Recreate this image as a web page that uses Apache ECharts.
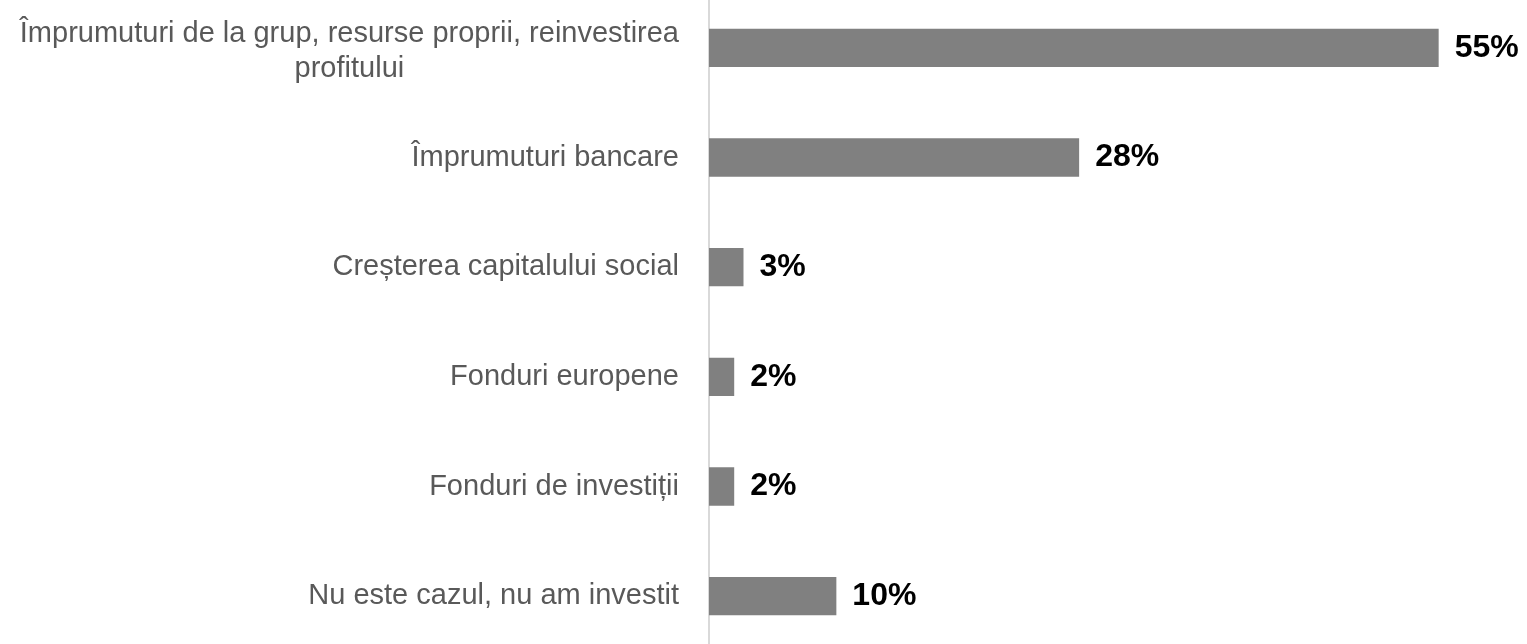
<!DOCTYPE html>
<html>
<head>
<meta charset="utf-8">
<script src="https://cdn.jsdelivr.net/npm/echarts@6/dist/echarts.min.js"></script>
<style>
html,body{margin:0;padding:0;background:#fff;overflow:hidden;width:1527px;height:644px;}
#chart{position:absolute;left:0;top:-7px;width:1527px;height:658px;}
</style>
</head>
<body>
<div id="chart"></div>
<script>
const categories = [
  "Împrumuturi de la grup, resurse proprii, reinvestirea\nprofitului",
  "Împrumuturi bancare",
  "Creșterea capitalului social",
  "Fonduri europene",
  "Fonduri de investiții",
  "Nu este cazul, nu am investit"
];
const values = [55, 27.9, 2.6, 1.9, 1.9, 9.6];
const valueLabels = ["55%", "28%", "3%", "2%", "2%", "10%"];

const catData = categories.map(function (c) {
  return c.indexOf('\n') >= 0 ? {value: c, textStyle: {padding: [8, 0, 0, 0]}} : c;
});

const chart = echarts.init(document.getElementById('chart'), null, {renderer: 'canvas'});
chart.setOption({
  animation: false,
  grid: {left: 709, right: 22, top: 0, bottom: 0, containLabel: false},
  xAxis: {
    type: 'value', min: 0, max: 60, show: false
  },
  yAxis: {
    type: 'category',
    inverse: true,
    data: catData,
    offset: 1,
    axisLine: {show: true, lineStyle: {color: '#d9d9d9', width: 2}},
    axisTick: {show: false},
    splitLine: {show: false},
    axisLabel: {
      margin: 29,
      color: '#595959',
      fontFamily: 'Liberation Sans, Arial, sans-serif',
      fontSize: 29,
      lineHeight: 35,
      formatter: function (v) {
        return v.split('\n').map(function (l) { return '{c|' + l + '}'; }).join('\n');
      },
      rich: {c: {align: 'center', color: '#595959', fontSize: 29, lineHeight: 35, fontFamily: 'Liberation Sans, Arial, sans-serif'}}
    }
  },
  series: [{
    type: 'bar',
    data: values,
    barCategoryGap: '65%',
    itemStyle: {color: '#808080'},
    label: {
      show: true,
      position: 'right',
      distance: 16,
      color: '#000',
      fontWeight: 'bold',
      fontSize: 32,
      fontFamily: 'Liberation Sans, Arial, sans-serif',
      formatter: function (p) { return valueLabels[p.dataIndex]; }
    }
  }]
});
</script>
</body>
</html>
